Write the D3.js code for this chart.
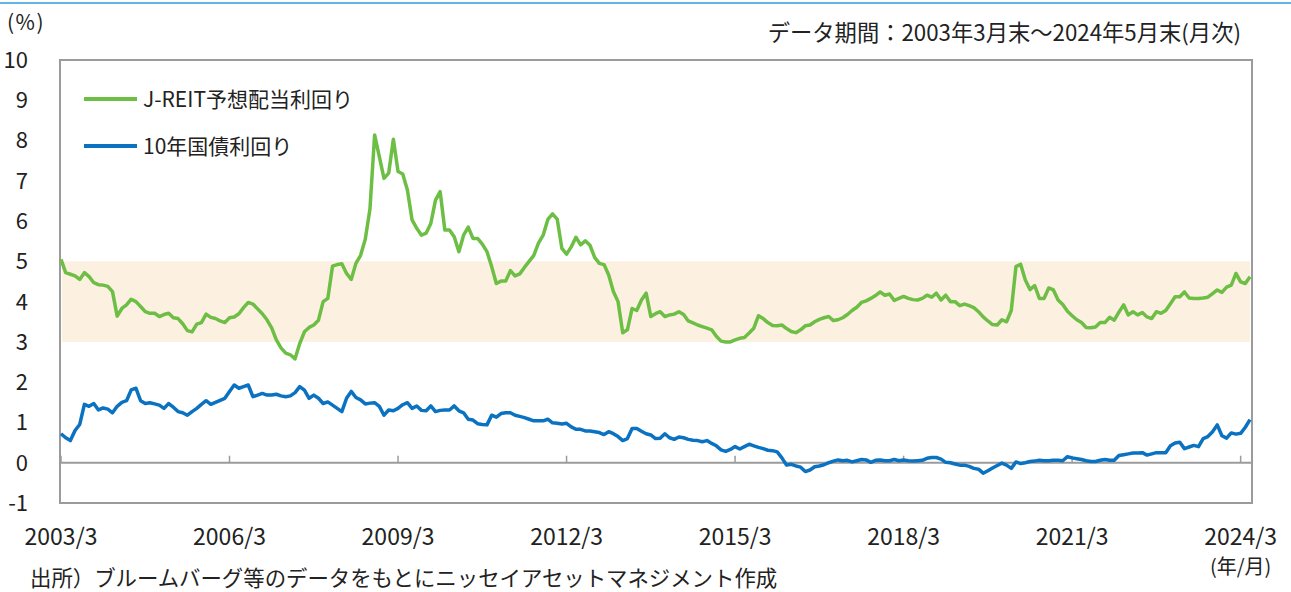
<!DOCTYPE html>
<html>
<head>
<meta charset="utf-8">
<script src="https://cdn.jsdelivr.net/npm/d3@7/dist/d3.min.js"></script>
<style>
  body { margin: 0; background: #fff; }
  svg text { font-family: "Noto Sans CJK JP", "Noto Sans", sans-serif; fill: #222; }
</style>
</head>
<body>
<div id="chart"></div>
<script>
// ### Data (month-end, 2003/3 - 2024/5) ###
var startYear = 2003, startMonth = 3;

// J-REIT予想配当利回り (%)
var reitYield = [
  5.05, 4.72, 4.68, 4.64, 4.55, 4.72, 4.62, 4.47, 4.42, 4.41,             // 2003 Mar-Dec
  4.38, 4.25, 3.64, 3.83, 3.92, 4.06, 4.00, 3.88, 3.75, 3.71, 3.71, 3.63, // 2004
  3.68, 3.71, 3.60, 3.58, 3.45, 3.28, 3.25, 3.44, 3.48, 3.69, 3.61, 3.58, // 2005
  3.52, 3.48, 3.60, 3.62, 3.70, 3.85, 3.98, 3.94, 3.82, 3.70, 3.55, 3.35, // 2006
  3.05, 2.85, 2.72, 2.68, 2.58, 2.96, 3.25, 3.36, 3.42, 3.54, 4.00, 4.08, // 2007
  4.88, 4.92, 4.94, 4.70, 4.55, 4.95, 5.15, 5.55, 6.30, 8.14, 7.60, 7.06, // 2008
  7.19, 8.03, 7.23, 7.17, 6.77, 6.03, 5.82, 5.65, 5.70, 5.94, 6.52, 6.73, // 2009
  5.78, 5.78, 5.61, 5.24, 5.65, 5.85, 5.57, 5.57, 5.43, 5.24, 4.87, 4.45, // 2010
  4.51, 4.51, 4.77, 4.64, 4.69, 4.85, 5.00, 5.15, 5.45, 5.65, 6.04, 6.18, // 2011
  6.05, 5.32, 5.18, 5.36, 5.60, 5.41, 5.51, 5.40, 5.10, 4.95, 4.92, 4.66, // 2012
  4.25, 4.00, 3.23, 3.30, 3.83, 3.78, 4.04, 4.21, 3.63, 3.70, 3.75, 3.63, // 2013
  3.67, 3.69, 3.75, 3.68, 3.52, 3.47, 3.42, 3.38, 3.34, 3.30, 3.14, 3.02, // 2014
  3.00, 3.00, 3.05, 3.09, 3.11, 3.22, 3.34, 3.65, 3.58, 3.48, 3.41, 3.40, // 2015
  3.42, 3.33, 3.26, 3.23, 3.30, 3.40, 3.42, 3.50, 3.56, 3.60, 3.63, 3.53, // 2016
  3.55, 3.60, 3.68, 3.78, 3.86, 3.98, 4.02, 4.08, 4.15, 4.24, 4.16, 4.19, // 2017
  4.03, 4.08, 4.13, 4.08, 4.05, 4.04, 4.08, 4.16, 4.11, 4.21, 4.04, 4.16, // 2018
  4.00, 4.00, 3.90, 3.94, 3.90, 3.85, 3.75, 3.62, 3.52, 3.43, 3.42, 3.55, // 2019
  3.50, 3.78, 4.87, 4.93, 4.54, 4.30, 4.40, 4.08, 4.08, 4.34, 4.29, 4.04, // 2020
  3.93, 3.76, 3.65, 3.55, 3.48, 3.36, 3.35, 3.37, 3.48, 3.48, 3.61, 3.54, // 2021
  3.74, 3.92, 3.67, 3.75, 3.67, 3.73, 3.62, 3.58, 3.75, 3.71, 3.78, 3.95, // 2022
  4.12, 4.12, 4.24, 4.09, 4.08, 4.08, 4.09, 4.11, 4.20, 4.29, 4.23, 4.36, // 2023
  4.41, 4.70, 4.49, 4.45, 4.62                                            // 2024 Jan-May
];

// 10年国債利回り (%)
var jgbYield = [
  0.72, 0.62, 0.55, 0.80, 0.95, 1.45, 1.40, 1.47, 1.31, 1.36,             // 2003 Mar-Dec
  1.33, 1.24, 1.40, 1.50, 1.54, 1.81, 1.85, 1.54, 1.47, 1.49, 1.46, 1.43, // 2004
  1.35, 1.47, 1.38, 1.27, 1.24, 1.18, 1.27, 1.35, 1.45, 1.54, 1.45, 1.50, // 2005
  1.55, 1.60, 1.77, 1.93, 1.85, 1.89, 1.93, 1.64, 1.68, 1.72, 1.68, 1.68, // 2006
  1.70, 1.66, 1.64, 1.66, 1.74, 1.89, 1.80, 1.60, 1.68, 1.60, 1.47, 1.51, // 2007
  1.43, 1.35, 1.27, 1.60, 1.77, 1.62, 1.56, 1.46, 1.48, 1.49, 1.40, 1.18, // 2008
  1.31, 1.29, 1.35, 1.44, 1.49, 1.35, 1.41, 1.30, 1.29, 1.41, 1.27, 1.30, // 2009
  1.31, 1.31, 1.41, 1.29, 1.24, 1.08, 1.06, 0.97, 0.95, 0.94, 1.18, 1.13, // 2010
  1.22, 1.24, 1.24, 1.18, 1.15, 1.12, 1.08, 1.04, 1.04, 1.04, 1.08, 0.99, // 2011
  0.98, 0.96, 0.98, 0.89, 0.83, 0.83, 0.79, 0.79, 0.77, 0.75, 0.70, 0.77, // 2012
  0.72, 0.65, 0.55, 0.60, 0.85, 0.85, 0.78, 0.72, 0.69, 0.60, 0.61, 0.72, // 2013
  0.62, 0.58, 0.64, 0.62, 0.58, 0.56, 0.55, 0.52, 0.55, 0.48, 0.42, 0.32, // 2014
  0.28, 0.33, 0.40, 0.34, 0.40, 0.46, 0.42, 0.38, 0.35, 0.31, 0.30, 0.27, // 2015
  0.12, -0.06, -0.04, -0.08, -0.11, -0.22, -0.18, -0.10, -0.08, -0.05, 0.00, 0.04, // 2016
  0.07, 0.05, 0.06, 0.02, 0.05, 0.08, 0.07, 0.01, 0.06, 0.07, 0.05, 0.05, // 2017
  0.08, 0.05, 0.07, 0.05, 0.04, 0.05, 0.06, 0.11, 0.13, 0.13, 0.09, 0.01, // 2018
  0.00, -0.03, -0.06, -0.06, -0.09, -0.14, -0.16, -0.26, -0.20, -0.13, -0.07, -0.01, // 2019
  -0.06, -0.14, 0.02, -0.02, 0.00, 0.03, 0.04, 0.06, 0.05, 0.05, 0.06, 0.06, // 2020
  0.05, 0.15, 0.12, 0.10, 0.08, 0.05, 0.03, 0.03, 0.06, 0.08, 0.06, 0.06, // 2021
  0.18, 0.20, 0.22, 0.24, 0.24, 0.25, 0.19, 0.22, 0.25, 0.25, 0.25, 0.42, // 2022
  0.49, 0.51, 0.35, 0.39, 0.43, 0.40, 0.60, 0.65, 0.77, 0.94, 0.67, 0.61, // 2023
  0.74, 0.71, 0.73, 0.88, 1.07                                            // 2024 Jan-May
];

var seriesNames = ["J-REIT予想配当利回り", "10年国債利回り"];
var seriesColors = ["#6dbe45", "#0a72c0"];
var xTickLabels = ["2003/3", "2006/3", "2009/3", "2012/3", "2015/3", "2018/3", "2021/3", "2024/3"];
var yTicks = [-1, 0, 1, 2, 3, 4, 5, 6, 7, 8, 9, 10];
var band = [3, 5];

// ### Layout ###
var W = 1291, H = 592;
var plot = {left: 60, right: 1252, top: 60, bottom: 503};

var svg = d3.select("#chart").append("svg")
    .attr("width", W)
    .attr("height", H);

// months since start for a "YYYY/M" label
function monthIndex(label) {
  var p = label.split("/");
  return (+p[0] - startYear) * 12 + (+p[1] - startMonth);
}

var n = reitYield.length;
var x = d3.scaleLinear()
    .domain([0, n - 1])
    .range([61, 1250]);

var y = d3.scaleLinear()
    .domain([-1, 10])
    .range([plot.bottom, plot.top]);

// top rule
svg.append("line")
    .attr("x1", 0).attr("x2", W)
    .attr("y1", 3).attr("y2", 3)
    .style("stroke", "#62b6e4")
    .style("stroke-width", 2);

// shaded 3-5% band
svg.append("rect")
    .attr("x", plot.left + 2)
    .attr("width", 1250 - plot.left - 2)
    .attr("y", y(band[1]))
    .attr("height", y(band[0]) - y(band[1]))
    .style("fill", "#fcf0e1");

// frame
svg.append("rect")
    .attr("x", plot.left)
    .attr("y", plot.top)
    .attr("width", plot.right - plot.left)
    .attr("height", plot.bottom - plot.top)
    .style("fill", "none")
    .style("stroke", "#9b9b9b")
    .style("stroke-width", 2);

// zero line + ticks
svg.append("line")
    .attr("x1", plot.left).attr("x2", plot.right)
    .attr("y1", y(0)).attr("y2", y(0))
    .style("stroke", "#9b9b9b")
    .style("stroke-width", 2);

svg.selectAll(".xtick")
    .data(xTickLabels)
    .enter().append("line")
    .attr("class", "xtick")
    .attr("x1", function(d) { return x(monthIndex(d)); })
    .attr("x2", function(d) { return x(monthIndex(d)); })
    .attr("y1", y(0))
    .attr("y2", y(0) - 7)
    .style("stroke", "#9b9b9b")
    .style("stroke-width", 1.5);

// y labels
svg.selectAll(".ylabel")
    .data(yTicks)
    .enter().append("text")
    .attr("class", "ylabel")
    .attr("x", 28)
    .attr("y", function(d) { return y(d); })
    .attr("dy", "0.36em")
    .attr("text-anchor", "end")
    .style("font-size", "22px")
    .text(function(d) { return d; });

svg.append("text")
    .attr("x", 7)
    .attr("y", 30)
    .style("font-size", "21px")
    .style("letter-spacing", "1.5px")
    .text("(%)");

// x labels; the last one carries the (年/月) unit on a second line
var xLabels = svg.selectAll(".xlabel")
    .data(xTickLabels)
    .enter().append("text")
    .attr("class", "xlabel")
    .attr("x", function(d) { return x(monthIndex(d)); })
    .attr("y", 545)
    .attr("text-anchor", "middle")
    .style("font-size", "23px");

xLabels.append("tspan")
    .text(function(d) { return d; });

xLabels.filter(function(d, i) { return i === xTickLabels.length - 1; })
    .append("tspan")
    .attr("x", function(d) { return x(monthIndex(d)); })
    .attr("dy", 29)
    .style("font-size", "20px")
    .text("(年/月)");

// lines
var line = d3.line()
    .x(function(d, i) { return x(i); })
    .y(function(d) { return y(d); });

[reitYield, jgbYield].forEach(function(s, k) {
  svg.append("path")
      .datum(s)
      .attr("d", line)
      .style("fill", "none")
      .style("stroke", seriesColors[k])
      .style("stroke-width", 3.5)
      .style("stroke-linejoin", "round");
});

// legend
var legend = svg.selectAll(".legend")
    .data(seriesNames)
    .enter().append("g")
    .attr("class", "legend")
    .attr("transform", function(d, i) { return "translate(84," + (99 + i * 47) + ")"; });

legend.append("line")
    .attr("x1", 0).attr("x2", 53)
    .attr("y1", 0).attr("y2", 0)
    .style("stroke", function(d, i) { return seriesColors[i]; })
    .style("stroke-width", 4);

legend.append("text")
    .attr("x", 59)
    .attr("dy", "0.36em")
    .style("font-size", "21px")
    .text(function(d) { return d; });

// period note + source
svg.append("text")
    .attr("x", 1241)
    .attr("y", 41)
    .attr("text-anchor", "end")
    .style("font-size", "22.3px")
    .text("データ期間：2003年3月末～2024年5月末(月次)");

svg.append("text")
    .attr("x", 30)
    .attr("y", 586)
    .style("font-size", "21.4px")
    .text("出所）ブルームバーグ等のデータをもとにニッセイアセットマネジメント作成");
</script>
</body>
</html>
